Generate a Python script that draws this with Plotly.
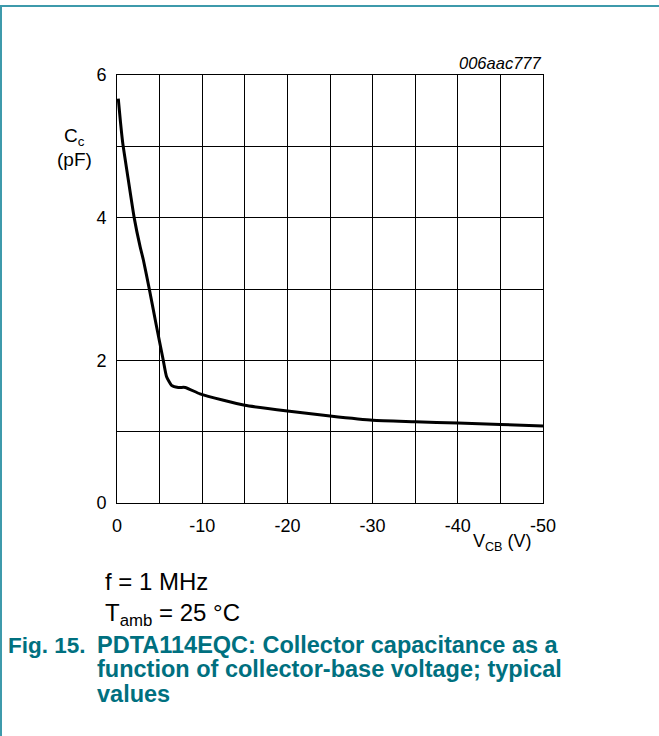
import plotly.graph_objects as go

# Data
v_cb = [-0.15, -0.4, -0.67, -1.2, -2.03, -2.7, -3.09, -3.79, -4.6, -5.43, -5.82,
        -6.4, -7.2, -8.0, -9.74, -12.5, -15, -20, -25, -30, -35, -40, -45, -50]
c_c = [5.67, 5.35, 5.05, 4.63, 3.99, 3.6, 3.41, 3.0, 2.5, 2.0, 1.77,
       1.65, 1.62, 1.62, 1.53, 1.44, 1.37, 1.29, 1.22, 1.16, 1.14, 1.12, 1.10, 1.08]

x_tickvals = [0, -10, -20, -30, -40, -50]
x_ticktext = ["0", "-10", "-20", "-30", "-40", "-50"]
y_tickvals = [0, 2, 4, 6]
y_ticktext = ["0", "2", "4", "6"]

W, H = 659, 736
L, R, T, B = 117, 543, 75, 503  # plot area in pixels
pw, ph = R - L, B - T

def px(x):
    return (x - L) / pw

def py(y):
    return (B - y) / ph

FONT = "Arial, Liberation Sans, sans-serif"
TEAL = "#00707f"
BORDER = "#3d9aab"

fig = go.Figure()
fig.add_trace(go.Scatter(x=v_cb, y=c_c, mode="lines",
                         line=dict(color="black", width=3, shape="spline", smoothing=0.5),
                         hoverinfo="skip", showlegend=False))

axis_common = dict(showgrid=True, gridcolor="black", gridwidth=1,
                   showline=True, linecolor="black", linewidth=1, mirror=True,
                   zeroline=False, ticks="", tickmode="array",
                   tickfont=dict(family=FONT, size=18, color="black"))

fig.update_xaxes(range=[0, -50], tickvals=x_tickvals, ticktext=x_ticktext,
                 minor=dict(dtick=5, tick0=0, showgrid=True, gridcolor="black", gridwidth=1, ticks=""),
                 ticklabelstandoff=6, **axis_common)
fig.update_yaxes(range=[0, 6], tickvals=y_tickvals, ticktext=y_ticktext,
                 minor=dict(dtick=1, tick0=0, showgrid=True, gridcolor="black", gridwidth=1, ticks=""),
                 ticklabelstandoff=6, **axis_common)

ann = []
ann.append(dict(x=1.0, y=py(63), xref="paper", yref="paper", xanchor="right", yanchor="middle",
                text="<i>006aac777</i>", showarrow=False,
                font=dict(family=FONT, size=16.5, color="black")))
ann.append(dict(x=px(74), y=py(137), xref="paper", yref="paper", xanchor="center", yanchor="middle",
                text="C<sub>c</sub>", showarrow=False,
                font=dict(family=FONT, size=19, color="black")))
ann.append(dict(x=px(74), y=py(159), xref="paper", yref="paper", xanchor="center", yanchor="middle",
                text="(pF)", showarrow=False,
                font=dict(family=FONT, size=19, color="black")))
ann.append(dict(x=px(534), y=py(542), xref="paper", yref="paper", xanchor="right", yanchor="middle",
                text="V<sub>CB</sub> (V)", showarrow=False,
                font=dict(family=FONT, size=18, color="black")))
ann.append(dict(x=px(103), y=py(581), xref="paper", yref="paper", xanchor="left", yanchor="middle",
                text="f = 1 MHz", showarrow=False,
                font=dict(family=FONT, size=24, color="black")))
ann.append(dict(x=px(103), y=py(614), xref="paper", yref="paper", xanchor="left", yanchor="middle",
                text="T<sub>amb</sub> = 25 °C", showarrow=False,
                font=dict(family=FONT, size=24, color="black")))
ann.append(dict(x=px(6), y=py(645), xref="paper", yref="paper", xanchor="left", yanchor="middle",
                text="<b>Fig. 15.</b>", showarrow=False,
                font=dict(family=FONT, size=22.5, color=TEAL)))
cap_font = dict(family=FONT, size=23.5, color=TEAL)
for i, line in enumerate(["PDTA114EQC: Collector capacitance as a",
                          "function of collector-base voltage; typical",
                          "values"]):
    ann.append(dict(x=px(95), y=py(645 + 24.3 * i), xref="paper", yref="paper",
                    xanchor="left", yanchor="middle",
                    text="<b>" + line + "</b>", showarrow=False, font=cap_font))

shapes = [
    dict(type="line", xref="paper", yref="paper", x0=px(0), x1=px(659), y0=py(6), y1=py(6),
         line=dict(color=BORDER, width=2)),
    dict(type="line", xref="paper", yref="paper", x0=px(1), x1=px(1), y0=py(6), y1=py(736),
         line=dict(color=BORDER, width=2)),
]

fig.update_layout(width=W, height=H,
                  margin=dict(l=L, r=W - R, t=T, b=H - B, pad=0),
                  paper_bgcolor="white", plot_bgcolor="white",
                  annotations=ann, shapes=shapes, showlegend=False)

fig.write_html("out.html", config={"displayModeBar": False},
               post_script="document.body.style.margin='0';document.body.style.overflow='hidden';")
